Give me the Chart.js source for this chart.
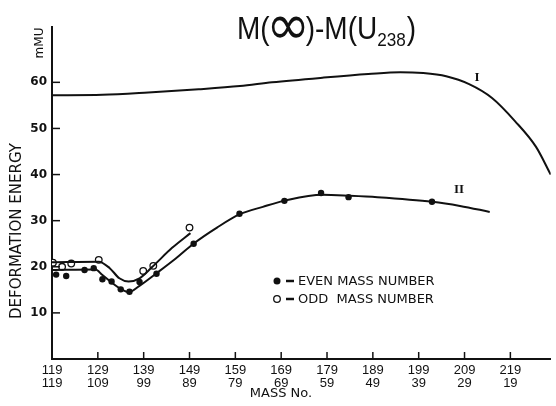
<!DOCTYPE html>
<html><head><meta charset="utf-8">
<script src="https://cdn.jsdelivr.net/npm/chart.js@4.4.0/dist/chart.umd.min.js"></script>
<style>html,body{margin:0;padding:0;background:#fff}#c{display:block}</style>
</head><body>
<canvas id="c" width="556" height="406"></canvas>
<script>
// ---- data ----
const xTicks = [119,129,139,149,159,169,179,189,199,209,219];
const yTicks = [10,20,30,40,50,60];
const curveIMass  = [119,130,140,151,160,167,178,188,195,200,205,210,215,220,224.6,227.8];
const curveIValue = [57.2,57.3,57.8,58.5,59.2,60.0,61.0,61.8,62.2,62.0,61.3,59.6,56.6,51.6,46.0,40.0];
const evenCurveMass  = [119,128.5,130,132,134,135.8,138,141.8,146,150,155,160,165,170,178,184,190,202,208,214.5];
const evenCurveValue = [19.3,19.4,18.2,16.6,15.2,14.5,15.8,18.6,21.8,25.1,28.5,31.4,33.0,34.4,35.6,35.4,35.1,34.1,33.2,31.9];
const oddCurveMass  = [119,129.2,131.6,133.7,135.7,138.1,140.9,145.2,149.2];
const oddCurveValue = [21.0,21.1,19.7,17.5,16.8,17.5,20.0,24.1,27.3];
const evenMass  = [119.9,122.1,126.1,128.1,130.0,132.0,134.0,135.9,138.1,141.8,149.9,159.9,169.7,177.7,183.7,201.9];
const evenValue = [18.3,18.0,19.3,19.7,17.3,16.8,15.1,14.6,16.7,18.5,25.0,31.5,34.3,36.0,35.1,34.1];
const oddMass  = [119.2,121.2,123.2,129.2,138.9,141.1,149.0];
const oddValue = [20.9,20.0,20.7,21.5,19.1,20.2,28.5];

const pts = (xs, ys) => xs.map((x, i) => ({x, y: ys[i]}));
const INK = '#111';

const lineDs = (xs, ys) => ({
  data: pts(xs, ys), showLine: true, borderColor: INK, borderWidth: 2,
  pointRadius: 0, tension: 0.4, cubicInterpolationMode: 'monotone', fill: false
});

const decor = {
  id: 'decor',
  afterDraw(chart) {
    const ctx = chart.ctx, xs = chart.scales.x, ys = chart.scales.y, ca = chart.chartArea;
    ctx.save();
    ctx.strokeStyle = INK; ctx.fillStyle = INK;
    // inside tick marks
    ctx.lineWidth = 1.5;
    yTicks.forEach(v => { const y = ys.getPixelForValue(v); ctx.beginPath(); ctx.moveTo(ca.left, y); ctx.lineTo(ca.left + 8, y); ctx.stroke(); });
    xTicks.slice(1).forEach(v => { const x = xs.getPixelForValue(v); ctx.beginPath(); ctx.moveTo(x, ca.bottom); ctx.lineTo(x, ca.bottom - 7); ctx.stroke(); });

    // title  M(∞)-M(U238), compressed horizontally to the reference width
    const TF = '31px "Liberation Sans"', SF = '19px "Liberation Sans"';
    const base = 39;
    ctx.textBaseline = 'alphabetic'; ctx.textAlign = 'left';
    ctx.font = TF;
    const w1 = ctx.measureText('M(').width, w3 = ctx.measureText(')-M(U').width, w5 = ctx.measureText(')').width;
    ctx.font = SF;
    const w4 = ctx.measureText('238').width + 1;
    const infW = 40;
    const total = w1 + infW + w3 + w4 + w5;
    const k = 179 / total;
    ctx.save();
    ctx.translate(237, 0); ctx.scale(k, 1);
    let x = 0;
    ctx.font = TF; ctx.fillText('M(', x, base); x += w1;
    ctx.save();
    ctx.font = '44px "DejaVu Sans"';
    const m = ctx.measureText('\u221E');
    const inkL = m.actualBoundingBoxLeft, inkW = m.actualBoundingBoxLeft + m.actualBoundingBoxRight;
    const inkC = (m.actualBoundingBoxAscent - m.actualBoundingBoxDescent) / 2;
    const sx = (infW - 3) / inkW, sy = 23 / (m.actualBoundingBoxAscent + m.actualBoundingBoxDescent);
    ctx.translate(x + 1.5 + inkL * sx, base - 11.5);
    ctx.scale(sx, sy);
    ctx.fillText('\u221E', 0, inkC);
    ctx.restore();
    x += infW;
    ctx.font = TF; ctx.fillText(')-M(U', x, base); x += w3;
    ctx.font = SF; ctx.fillText('238', x, base + 7); x += w4;
    ctx.font = TF; ctx.fillText(')', x, base);
    ctx.restore();

    // axis titles
    ctx.save();
    ctx.translate(17, 231); ctx.rotate(-Math.PI / 2);
    ctx.textAlign = 'center'; ctx.textBaseline = 'middle';
    ctx.font = '15px "DejaVu Sans"';
    ctx.fillText('DEFORMATION ENERGY', 0, 0);
    ctx.restore();
    ctx.save();
    ctx.translate(40, 43); ctx.rotate(-Math.PI / 2);
    ctx.textAlign = 'center'; ctx.textBaseline = 'middle';
    ctx.font = '12px "DejaVu Sans"';
    ctx.fillText('mMU', 0, 0);
    ctx.restore();
    ctx.textAlign = 'center'; ctx.textBaseline = 'middle';
    ctx.font = '13px "DejaVu Sans"';
    ctx.fillText('MASS No.', 281, 394);

    // curve labels
    ctx.font = 'bold 13px "Liberation Serif"';
    ctx.fillText('I', 477, 78);
    ctx.fillText('II', 459, 190);

    // legend
    ctx.textAlign = 'left';
    ctx.font = '13px "DejaVu Sans"';
    ctx.lineWidth = 2.5;
    ctx.beginPath(); ctx.arc(277, 281, 3.5, 0, Math.PI * 2); ctx.fill();
    ctx.beginPath(); ctx.moveTo(286, 281); ctx.lineTo(294, 281); ctx.stroke();
    ctx.fillText('EVEN MASS NUMBER', 298, 282);
    ctx.lineWidth = 1.3;
    ctx.beginPath(); ctx.arc(277, 299, 3.3, 0, Math.PI * 2); ctx.fillStyle = '#fff'; ctx.fill(); ctx.stroke();
    ctx.fillStyle = INK;
    ctx.lineWidth = 2.5;
    ctx.beginPath(); ctx.moveTo(286, 299); ctx.lineTo(294, 299); ctx.stroke();
    ctx.fillText('ODD  MASS NUMBER', 298, 300);
    ctx.restore();
  }
};

new Chart(document.getElementById('c'), {
  type: 'scatter',
  data: {
    datasets: [
      lineDs(curveIMass, curveIValue),
      lineDs(evenCurveMass, evenCurveValue),
      lineDs(oddCurveMass, oddCurveValue),
      { data: pts(evenMass, evenValue), showLine: false, pointRadius: 3.2, pointBackgroundColor: INK, pointBorderColor: INK, pointBorderWidth: 0 },
      { data: pts(oddMass, oddValue), showLine: false, pointRadius: 3.3, pointBackgroundColor: '#fff', pointBorderColor: INK, pointBorderWidth: 1.3 }
    ]
  },
  options: {
    responsive: false, animation: false, devicePixelRatio: 1,
    layout: { padding: { top: 27, right: 0, left: 0, bottom: 0 } },
    plugins: { legend: { display: false }, tooltip: { enabled: false }, title: { display: false } },
    scales: {
      x: {
        type: 'linear', position: 'bottom', min: 119, max: 227.8,
        afterBuildTicks: s => { s.ticks = xTicks.map(v => ({ value: v })); },
        afterFit: s => { s.height = 47; },
        grid: { display: false, drawTicks: false },
        border: { display: true, color: INK, width: 2 },
        ticks: {
          autoSkip: false, maxRotation: 0, padding: 5, color: INK,
          font: { family: '"Liberation Sans Narrow", "Liberation Sans"', size: 13, lineHeight: 1.0 },
          callback: v => [String(v), String(238 - v)]
        }
      },
      y: {
        type: 'linear', min: 0, max: 72,
        afterBuildTicks: s => { s.ticks = yTicks.map(v => ({ value: v })); },
        afterFit: s => { s.width = 52; },
        grid: { display: false, drawTicks: false },
        border: { display: true, color: INK, width: 2 },
        ticks: { padding: 5, color: INK, font: { family: '"DejaVu Sans"', size: 12, weight: 'bold' } }
      }
    }
  },
  plugins: [decor]
});
</script>
</body></html>
